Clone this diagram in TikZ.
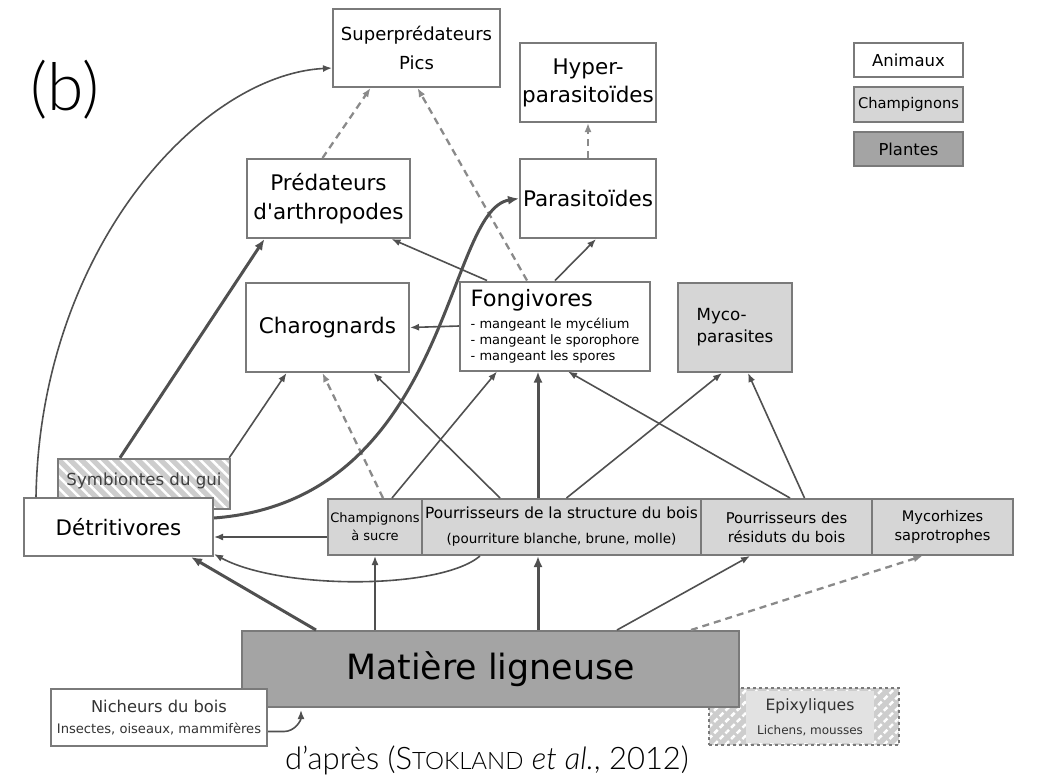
\documentclass[tikz,border=0pt]{standalone}
\usepackage{fontspec}
\setmainfont{DejaVu Sans}
\newfontfamily\plainfont{DejaVu Sans}
\newfontfamily\latofont{Lato Light}
\usepackage{tikz}
\usetikzlibrary{arrows.meta,positioning,calc,patterns.meta}

\definecolor{boxline}{HTML}{7A7A7A}
\definecolor{arrline}{HTML}{505050}
\definecolor{dashline}{HTML}{8A8A8A}
\definecolor{fungi}{HTML}{D6D6D6}
\definecolor{plant}{HTML}{A4A4A4}
\definecolor{hatchbg}{HTML}{CDCDCD}
\definecolor{epixin}{HTML}{E2E2E2}

\newcommand{\fsz}[2]{\fontsize{#1}{#2}\selectfont}

\begin{document}
\begin{tikzpicture}[x=1pt, y=-1pt,
    animal/.style={draw=boxline, line width=2pt, fill=white, align=center, inner sep=0pt},
    fungus/.style={animal, fill=fungi},
    plantbox/.style={animal, fill=plant},
    hatched/.style={draw=boxline, line width=1.5pt, preaction={fill=hatchbg}, pattern color=white},
    arr/.style={-{Latex[length=9pt,width=7pt]}, draw=arrline, line width=1.6pt},
    arrthick/.style={-{Latex[length=11pt,width=9pt]}, draw=arrline, line width=3pt},
    arrdash/.style={-{Latex[length=9pt,width=7pt]}, draw=dashline, line width=2.3pt, dash pattern=on 7pt off 5pt},
]
\useasboundingbox (0,0) rectangle (1049,780);

% Top level
\node[animal, minimum width=167pt, minimum height=78pt, font=\fsz{18}{29}] (sup) at (416.5,48) {Superprédateurs\\Pics};
\node[animal, minimum width=136pt, minimum height=79pt, font=\fsz{21.5}{28}] (hyp) at (588,82.5) {Hyper-\\parasitoïdes};

% Consumers
\node[animal, minimum width=163pt, minimum height=79pt, font=\plainfont\fsz{21.5}{29}] (pred) at (328.5,198.5) {Prédateurs\\d'arthropodes};
\node[animal, minimum width=136pt, minimum height=79pt, font=\fsz{21.5}{26}] (para) at (588,198.5) {Parasitoïdes};
\node[animal, minimum width=163pt, minimum height=89pt, font=\fsz{21.5}{26}] (char) at (327.5,327.5) {Charognards};
\node[animal, minimum width=190pt, minimum height=89pt, align=left, font=\fsz{13}{16}] (fong) at (555,326)
    {\fsz{22.5}{16}Fongivores\\[6pt]\fsz{13}{16}- mangeant le mycélium\\- mangeant le sporophore\\- mangeant les spores};
\node[fungus, minimum width=114pt, minimum height=89pt, align=left, font=\fsz{16.7}{22}] (myco) at (735,327.5) {Myco-\\parasites};

% Decomposers row
\node[hatched, pattern={Lines[angle=-45,distance=8pt,line width=2.5pt]}, minimum width=172pt, minimum height=50pt, inner sep=0pt] (symb) at (144,484) {};
\node[animal, minimum width=189pt, minimum height=58pt, font=\fsz{21.4}{26}] (detr) at (118.5,527) {Détritivores};
\node[font=\fsz{16.6}{20}, text=black!75] (symbtxt) at (144,481) {Symbiontes du gui};
\node[fungus, minimum width=94pt, minimum height=56pt, font=\fsz{13}{18}] (sucre) at (375,527) {Champignons\\à sucre};
\node[fungus, minimum width=279pt, minimum height=56pt, font=\fsz{15.4}{25}] (pstruct) at (561.5,527)
    {Pourrisseurs de la structure du bois\\\fsz{13.5}{25}(pourriture blanche, brune, molle)};
\node[fungus, minimum width=171pt, minimum height=56pt, font=\fsz{14.8}{19}] (presid) at (786.5,527) {Pourrisseurs des\\résiduts du bois};
\node[fungus, minimum width=141pt, minimum height=56pt, font=\fsz{14.6}{19}] (mycor) at (942.5,527) {Mycorhizes\\saprotrophes};

% Wood
\node[hatched, dashed, pattern={Lines[angle=45,distance=8pt,line width=2.5pt]}, minimum width=190pt, minimum height=57pt] (epix) at (804,716.5) {};
\node[fill=epixin, minimum width=128pt, minimum height=52pt, inner sep=0pt, align=center, font=\fsz{15.6}{24}, text=black!80] (epixtxt) at (810,717)
    {Epixyliques\\\fsz{12}{24}Lichens, mousses};
\node[plantbox, minimum width=497pt, minimum height=76pt, font=\fsz{34.8}{40}] (mat) at (490.5,669) {Matière ligneuse};
\node[animal, minimum width=216pt, minimum height=57pt, font=\fsz{16.3}{21}, text=black!80] (nich) at (159,717.5)
    {Nicheurs du bois\\\fsz{13.1}{21}Insectes, oiseaux, mammifères};

% Legend
\node[animal, minimum width=109pt, minimum height=34pt, font=\fsz{16.5}{20}] (leganim) at (908.5,60) {Animaux};
\node[fungus, minimum width=109pt, minimum height=35pt, font=\fsz{14.7}{20}] (legfung) at (908.5,104.5) {Champignons};
\node[plantbox, minimum width=109pt, minimum height=34pt, font=\fsz{16.4}{20}] (legplant) at (908.5,149) {Plantes};

% Labels
\node[font=\latofont\fsz{66}{70}] (lbl) at (65,90) {(b)};
\node[font=\latofont\fsz{31}{36}] (credit) at (487,760) {d’après (S{\fsz{24}{28}TOKLAND} \textit{et al.}, 2012)};

% Arrows from the wood
\draw[arrthick] ([xshift=75pt]mat.north west) -- ([xshift=-23pt]detr.south east);
\draw[arr] (mat.north -| sucre.south) -- (sucre.south);
\draw[arrthick] ([xshift=-23.5pt]pstruct.south |- mat.north) -- ([xshift=-23.5pt]pstruct.south);
\draw[arr] ([xshift=376pt]mat.north west) -- ([xshift=-36.5pt]presid.south);
\draw[arrdash] ([xshift=450pt]mat.north west) -- ([xshift=-20pt]mycor.south);
\draw[arr] ([yshift=-14pt]nich.east) -- ++(16,0) to[out=0,in=-90] ([xshift=60pt,yshift=-2pt]mat.south west);

% Arrows towards Detritivores
\draw[arr] ([yshift=-10pt]sucre.west) -- ([yshift=-10pt]detr.east);
\draw[arr] ([xshift=-81.5pt]pstruct.south) .. controls (440,590) and (280,590) .. ([yshift=3pt]detr.south east);

% Arrows from the fungi
\draw[arrdash] ([xshift=8pt]sucre.north) -- ([xshift=-5pt]char.south);
\draw[arr] ([xshift=17pt]sucre.north) -- ([xshift=-58pt]fong.south);
\draw[arr] ([xshift=-61.5pt]pstruct.north) -- ([xshift=46pt]char.south);
\draw[arrthick] ([xshift=-23.5pt]pstruct.north) -- ([xshift=-23.5pt]pstruct.north |- fong.south);
\draw[arr] ([xshift=5pt]pstruct.north) -- ([xshift=-13pt]myco.south);
\draw[arr] ([xshift=3.5pt]presid.north) -- ([xshift=13pt]fong.south);
\draw[arr] ([xshift=18pt]presid.north) -- ([xshift=13pt]myco.south);

% Arrows from the consumers
\draw[arr] (fong.west) -- (char.east);
\draw[arr] ([xshift=-68pt]fong.north) -- ([xshift=63pt]pred.south);
\draw[arr] (fong.north) -- ([xshift=8pt]para.south);
\draw[arrdash] ([xshift=-28pt]fong.north) -- ([xshift=1pt]sup.south);
\draw[arrdash] ([xshift=-6pt]pred.north) -- ([xshift=-46pt]sup.south);
\draw[arrdash] (para.north) -- (hyp.south);
\draw[arrthick] ([xshift=-24pt]symb.north) -- ([xshift=-64pt]pred.south);
\draw[arr] ([xshift=-2pt]symb.north east) -- ([xshift=-41pt]char.south);

% Long curves
\draw[arr] ([xshift=13pt]detr.north west) .. controls (40,250) and (200,75) .. ([yshift=-20pt]sup.west);
\draw[arrthick] ([yshift=9pt]detr.east) .. controls (450,500) and (445,210) .. (para.west);
\end{tikzpicture}
\end{document}
